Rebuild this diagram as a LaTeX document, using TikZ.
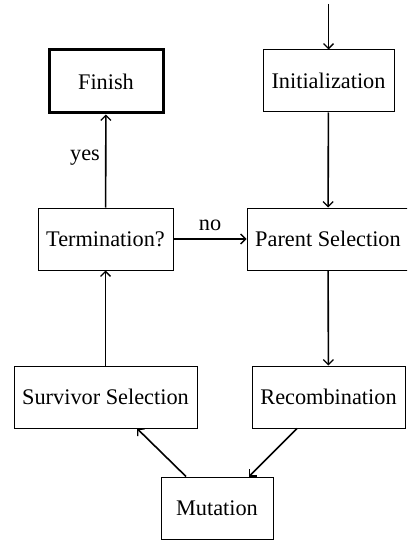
\documentclass[tikz,border=0pt]{standalone}
\usepackage{fontspec}
\setmainfont{Liberation Serif}
\usetikzlibrary{arrows.meta}
\begin{document}
\begin{tikzpicture}[x=1pt,y=-1pt,
  box/.style={draw, line width=1pt, minimum height=62pt, inner sep=0pt, font=\fontsize{22.3}{26}\selectfont},
  lbl/.style={font=\fontsize{22.3}{26}\selectfont, inner sep=0pt},
  conn/.style={line width=1.6pt, -{Straight Barb[length=5pt,width=10pt,line width=1.3pt]}}]
\useasboundingbox (0,0) rectangle (407,540);
\clip (0,0) rectangle (407,540);
\node[box, line width=3pt, minimum width=114pt, minimum height=63pt] (fin) at (106,81.5) {Finish};
\node[box, minimum width=131pt] (init) at (328.5,81) {Initialization};
\node[box, minimum width=135pt] (term) at (105.5,239) {Termination?};
\node[box, minimum width=162pt] (par) at (328,239) {Parent Selection};
\node[box, minimum width=183pt] (surv) at (105.5,397) {Survivor Selection};
\node[box, minimum width=153pt] (rec) at (328.5,397) {Recombination};
\node[box, minimum width=112pt] (mut) at (217,508) {Mutation};
\coordinate (start) at (328.5,4);
\node[lbl] (yes) at (85,158) {yes};
\node[lbl] (no) at (210,225) {no};
\draw[conn] (start) -- (init);
\draw[conn] (init) -- (par);
\draw[conn] (par) -- (rec);
\draw[conn] ([xshift=-31.5pt]rec.south) -- ([xshift=32pt]mut.north);
\draw[conn] ([xshift=-31pt]mut.north) -- ([xshift=31.5pt]surv.south);
\draw[conn] (surv) -- (term);
\draw[conn] (term) -- (fin);
\draw[conn] (term) -- (par);
\end{tikzpicture}
\end{document}
